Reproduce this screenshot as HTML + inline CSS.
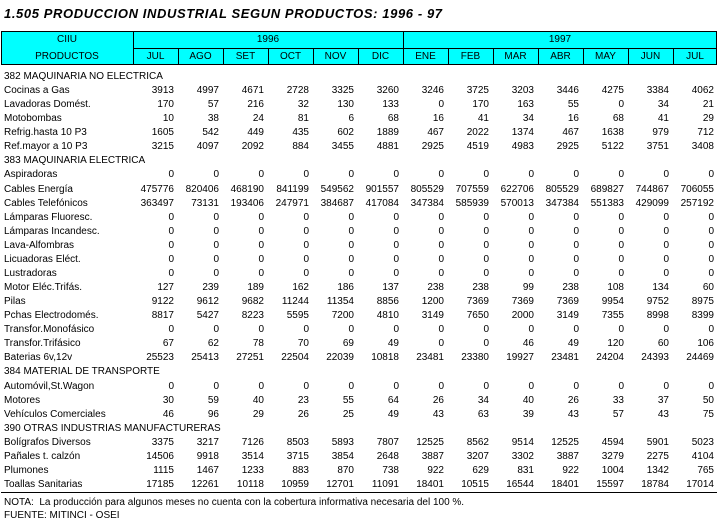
<!DOCTYPE html>
<html><head><meta charset="utf-8">
<style>
body{margin:0;background:#fff;width:719px;height:523px;position:relative;overflow:hidden;font-family:"Liberation Sans",sans-serif;color:#000}
.t{position:absolute;white-space:nowrap;font-size:10px;line-height:12px}
#title{left:4px;top:7px;font-size:13px;font-weight:bold;font-style:italic;letter-spacing:0.6px;line-height:14px}
#hdr{position:absolute;left:1px;top:31px;width:716px;height:34px;background:#00ffff;border:1px solid #000;box-sizing:border-box}
.vl{position:absolute;width:1px;background:#000}
.hl{position:absolute;height:1px;background:#000}
.hc{position:absolute;text-align:center;font-size:10px;line-height:12px}
.n{position:absolute;text-align:right;font-size:10px;line-height:12px;width:44px}
</style></head><body>
<div id="title" class="t">1.505 PRODUCCION INDUSTRIAL SEGUN PRODUCTOS: 1996 - 97</div>
<div id="hdr"></div>
<div id="rows"></div>
<div class="hl" style="left:1px;top:492px;width:716px"></div>
<div class="t" style="left:4px;top:497px">NOTA:&nbsp; La producción para algunos meses no cuenta con la cobertura informativa necesaria del 100 %.</div>
<div class="t" style="left:4px;top:510px">FUENTE: MITINCI - OSEI</div>
<script>
const months=["JUL","AGO","SET","OCT","NOV","DIC","ENE","FEB","MAR","ABR","MAY","JUN","JUL"];
const years=["1996","1997"];
const products=["382 MAQUINARIA NO ELECTRICA","Cocinas a Gas","Lavadoras Domést.","Motobombas","Refrig.hasta 10 P3","Ref.mayor a 10 P3","383 MAQUINARIA ELECTRICA","Aspiradoras","Cables Energía","Cables Telefónicos","Lámparas Fluoresc.","Lámparas Incandesc.","Lava-Alfombras","Licuadoras Eléct.","Lustradoras","Motor Eléc.Trifás.","Pilas","Pchas Electrodomés.","Transfor.Monofásico","Transfor.Trifásico","Baterias 6v,12v","384 MATERIAL DE TRANSPORTE","Automóvil,St.Wagon","Motores","Vehículos Comerciales","390 OTRAS INDUSTRIAS MANUFACTURERAS","Bolígrafos Diversos","Pañales t. calzón","Plumones","Toallas Sanitarias"];
const values=[null,
[3913,4997,4671,2728,3325,3260,3246,3725,3203,3446,4275,3384,4062],
[170,57,216,32,130,133,0,170,163,55,0,34,21],
[10,38,24,81,6,68,16,41,34,16,68,41,29],
[1605,542,449,435,602,1889,467,2022,1374,467,1638,979,712],
[3215,4097,2092,884,3455,4881,2925,4519,4983,2925,5122,3751,3408],
null,
[0,0,0,0,0,0,0,0,0,0,0,0,0],
[475776,820406,468190,841199,549562,901557,805529,707559,622706,805529,689827,744867,706055],
[363497,73131,193406,247971,384687,417084,347384,585939,570013,347384,551383,429099,257192],
[0,0,0,0,0,0,0,0,0,0,0,0,0],
[0,0,0,0,0,0,0,0,0,0,0,0,0],
[0,0,0,0,0,0,0,0,0,0,0,0,0],
[0,0,0,0,0,0,0,0,0,0,0,0,0],
[0,0,0,0,0,0,0,0,0,0,0,0,0],
[127,239,189,162,186,137,238,238,99,238,108,134,60],
[9122,9612,9682,11244,11354,8856,1200,7369,7369,7369,9954,9752,8975],
[8817,5427,8223,5595,7200,4810,3149,7650,2000,3149,7355,8998,8399],
[0,0,0,0,0,0,0,0,0,0,0,0,0],
[67,62,78,70,69,49,0,0,46,49,120,60,106],
[25523,25413,27251,22504,22039,10818,23481,23380,19927,23481,24204,24393,24469],
null,
[0,0,0,0,0,0,0,0,0,0,0,0,0],
[30,59,40,23,55,64,26,34,40,26,33,37,50],
[46,96,29,26,25,49,43,63,39,43,57,43,75],
null,
[3375,3217,7126,8503,5893,7807,12525,8562,9514,12525,4594,5901,5023],
[14506,9918,3514,3715,3854,2648,3887,3207,3302,3887,3279,2275,4104],
[1115,1467,1233,883,870,738,922,629,831,922,1004,1342,765],
[17185,12261,10118,10959,12701,11091,18401,10515,16544,18401,15597,18784,17014]];

const X0=133, CW=45, Y0=71, RH=14.07;
const colX=i=>X0+i*CW;
const rowY=r=>Y0+r*RH;
const body=document.body;
function mk(cls,css,txt){const d=document.createElement('div');d.className=cls;d.style.cssText=css;if(txt!==undefined)d.textContent=txt;body.appendChild(d);return d;}
let el=mk('vl','left:'+colX(0)+'px;top:31px;height:34px');


el=mk('vl','left:'+colX(6)+'px;top:31px;height:34px');


el=mk('hl','left:'+colX(0)+'px;top:48px;width:'+(717-colX(0))+'px');


for(let i=1;i<13;i++){if(i===6)continue;
 el=mk('vl','left:'+colX(i)+'px;top:48px;height:17px');
 
 }
el=mk('hc','left:1px;top:34px;width:132px','CIIU');


el=mk('hc','left:1px;top:51px;width:132px','PRODUCTOS');


years.forEach((y,k)=>{const l=colX(k*6),r=k?717:colX(6);
 const e=mk('hc','left:'+l+'px;top:34px;width:'+(r-l)+'px',y);
 
 });
months.forEach((m,i)=>{const r=i===12?717:colX(i+1);
 const e=mk('hc','left:'+colX(i)+'px;top:51px;width:'+(r-colX(i))+'px',m);
 
 });
products.forEach((p,r)=>{const y=rowY(r);
 const e=mk('t','left:4px;top:'+y+'px',p);
 
 
 if(values[r])values[r].forEach((v,i)=>{
  const c=mk('n','left:'+(colX(i+1)-48)+'px;top:'+y+'px',String(v));
  
  });
});
</script>
</body></html>
